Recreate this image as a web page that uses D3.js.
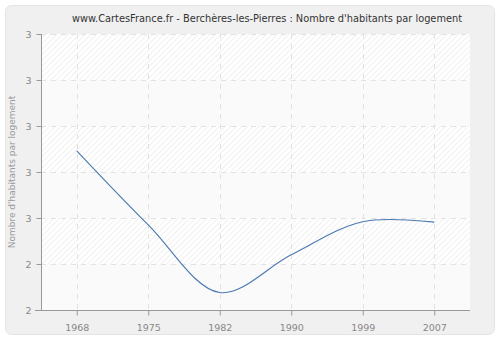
<!DOCTYPE html>
<html>
<head>
<meta charset="utf-8">
<script src="https://cdn.jsdelivr.net/npm/d3@7"></script>
<style>
  body { margin: 0; background: #fff; }
  svg text { font-family: "DejaVu Sans", sans-serif; }
</style>
</head>
<body>
<div id="chart"></div>
<script>
// data
var years = ["1968", "1975", "1982", "1990", "1999", "2007"];
var values = [2.646, 2.485, 2.338, 2.42, 2.492, 2.491];
var yTicks = [2.3, 2.4, 2.5, 2.6, 2.7, 2.8, 2.9];

var W = 500, H = 340;
var plot = { left: 41, right: 470, top: 34, bottom: 310 };

var svg = d3.select("#chart").append("svg")
    .attr("width", W)
    .attr("height", H);

var defs = svg.append("defs");
var pat = defs.append("pattern")
    .attr("id", "hatch")
    .attr("patternUnits", "userSpaceOnUse")
    .attr("width", 4).attr("height", 4)
    .attr("patternTransform", "rotate(45)");
pat.append("rect").attr("width", 4).attr("height", 4).attr("fill", "#ffffff");
pat.append("line")
    .attr("x1", 0).attr("y1", 0).attr("x2", 0).attr("y2", 4)
    .attr("stroke", "#e6e6e6").attr("stroke-width", 1.2);

// background panel
svg.append("rect")
    .attr("x", 5.5).attr("y", 5.5)
    .attr("width", 489).attr("height", 329)
    .attr("rx", 6)
    .attr("fill", "#f0f0f0")
    .attr("stroke", "#e4e4e4");

//----------------------------SCALES----------------------------//
var x = d3.scalePoint()
    .domain(years)
    .range([plot.left, plot.right])
    .padding(0.5);

var y = d3.scaleLinear()
    .domain([2.3, 2.9])
    .range([plot.bottom, plot.top]);

// plot area with alternating bands
svg.append("rect")
    .attr("x", plot.left).attr("y", plot.top)
    .attr("width", plot.right - plot.left)
    .attr("height", plot.bottom - plot.top)
    .attr("fill", "url(#hatch)");

svg.selectAll(".band")
    .data(d3.range(0, yTicks.length - 1).filter(function(i) { return i % 2 == 0; }))
    .enter()
    .append("rect")
    .attr("class", "band")
    .attr("x", plot.left)
    .attr("width", plot.right - plot.left)
    .attr("y", function(i) { return y(yTicks[i + 1]); })
    .attr("height", function(i) { return y(yTicks[i]) - y(yTicks[i + 1]); })
    .attr("fill", "#fafafa");

//-----------------------------GRID-----------------------------//
svg.selectAll(".hgrid")
    .data(yTicks.slice(1))
    .enter()
    .append("line")
    .attr("x1", plot.left).attr("x2", plot.right)
    .attr("y1", function(d) { return Math.round(y(d)) + 0.5; })
    .attr("y2", function(d) { return Math.round(y(d)) + 0.5; })
    .attr("stroke", "#e2e2e2")
    .attr("stroke-dasharray", "5,5");

svg.selectAll(".vgrid")
    .data(years)
    .enter()
    .append("line")
    .attr("x1", function(d) { return Math.round(x(d)) + 0.5; })
    .attr("x2", function(d) { return Math.round(x(d)) + 0.5; })
    .attr("y1", plot.top).attr("y2", plot.bottom)
    .attr("stroke", "#e2e2e2")
    .attr("stroke-dasharray", "5,5");

//-----------------------------AXES-----------------------------//
var yAxis = d3.axisLeft(y)
    .tickValues(yTicks)
    .tickSize(5)
    .tickFormat(function(d) { return Math.round(d); });

var xAxis = d3.axisBottom(x)
    .tickSize(5)
    .tickSizeOuter(0);

var gy = svg.append("g")
    .attr("transform", "translate(" + (plot.left + 0.5) + ",0)")
    .call(yAxis);

var gx = svg.append("g")
    .attr("transform", "translate(0," + (plot.bottom + 0.5) + ")")
    .call(xAxis);

gx.select(".domain").attr("d", "M" + (plot.left - 6) + ",0H" + plot.right);
gy.select(".domain").attr("d", "M0," + plot.top + "V" + plot.bottom);

[gx, gy].forEach(function(g) {
    g.selectAll(".domain").attr("stroke", "#999");
    g.selectAll(".tick line").attr("stroke", "#999");
    g.selectAll(".tick text")
        .attr("fill", "#888")
        .style("font-size", "9.5px")
        .style("font-family", "DejaVu Sans, sans-serif");
});
gx.selectAll(".tick text").attr("dy", "1.35em");
gy.selectAll(".tick text").attr("dx", "-2");

//----------------------------LINE------------------------------//
var line = d3.line()
    .x(function(d, i) { return x(years[i]); })
    .y(function(d) { return y(d); })
    .curve(d3.curveCatmullRom.alpha(0.5));

svg.append("path")
    .datum(values)
    .attr("d", line)
    .attr("fill", "none")
    .attr("stroke", "#4a78b0")
    .attr("stroke-width", 1.1);

//----------------------------TEXT------------------------------//
svg.append("text")
    .attr("x", 267)
    .attr("y", 22)
    .attr("text-anchor", "middle")
    .style("font-size", "9.8px")
    .attr("fill", "#333")
    .text("www.CartesFrance.fr - Berchères-les-Pierres : Nombre d'habitants par logement");

svg.append("text")
    .attr("transform", "translate(15," + ((plot.top + plot.bottom) / 2) + ") rotate(-90)")
    .attr("text-anchor", "middle")
    .style("font-size", "9px")
    .attr("fill", "#999")
    .text("Nombre d'habitants par logement");
</script>
</body>
</html>
